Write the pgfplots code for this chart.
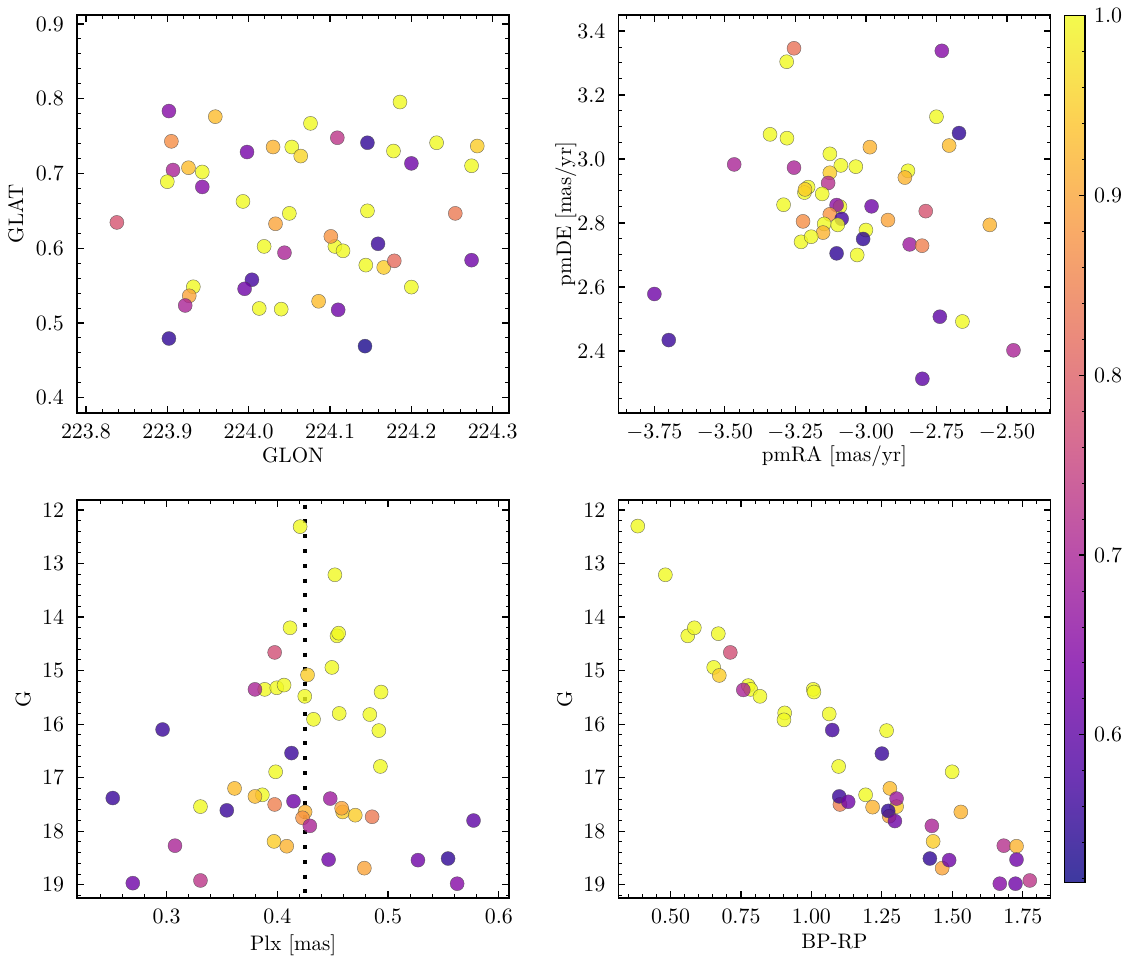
\documentclass[border=0pt]{standalone}
\usepackage{pgfplots}
\usepackage{pgfplotstable}
\pgfplotsset{compat=1.18}

\pgfplotstableread{
x y c
223.838 0.6345 0.78
223.902 0.7835 0.65
223.905 0.743 0.87
223.907 0.7046 0.70
223.900 0.689 1.0
223.926 0.7077 0.93
223.943 0.702 1.0
223.943 0.682 0.65
223.959 0.776 0.93
223.998 0.7287 0.63
223.993 0.6626 1.0
224.030 0.7354 0.92
224.033 0.6327 0.90
224.019 0.6024 1.0
224.044 0.594 0.70
224.004 0.5578 0.57
223.995 0.5457 0.62
223.932 0.5484 1.0
223.927 0.5363 0.90
223.922 0.5234 0.70
223.902 0.4792 0.55
224.013 0.5194 1.0
224.040 0.5185 1.0
224.050 0.6466 1.0
224.053 0.7354 1.0
224.064 0.7233 0.96
224.076 0.767 1.0
224.109 0.7478 0.73
224.146 0.7411 0.55
224.178 0.730 1.0
224.186 0.7956 1.0
224.200 0.7135 0.62
224.231 0.7411 1.0
224.281 0.7367 0.95
224.274 0.7103 1.0
224.254 0.6466 0.84
224.106 0.6024 1.0
224.101 0.6158 0.88
224.116 0.5965 1.0
224.146 0.650 1.0
224.159 0.6059 0.56
224.144 0.5774 1.0
224.166 0.5743 0.95
224.179 0.5831 0.82
224.274 0.584 0.62
224.200 0.548 1.0
224.086 0.529 0.93
224.110 0.5176 0.62
224.143 0.469 0.53
}\tabpos

\pgfplotstableread{
x y c
-3.255 3.346 0.83
-3.281 3.304 1.0
-3.340 3.077 1.0
-3.280 3.065 1.0
-3.467 2.983 0.70
-3.255 2.973 0.70
-3.292 2.857 1.0
-3.223 2.805 0.87
-3.230 2.741 1.0
-3.750 2.578 0.62
-3.699 2.434 0.56
-2.731 3.338 0.65
-2.750 3.132 1.0
-2.670 3.081 0.55
-2.705 3.042 0.93
-2.986 3.037 0.92
-3.128 3.016 1.0
-3.089 2.980 1.0
-3.036 2.976 1.0
-3.128 2.957 0.95
-2.851 2.963 1.0
-2.862 2.942 0.92
-3.134 2.925 0.72
-3.205 2.912 1.0
-3.218 2.895 1.0
-3.216 2.905 0.95
-3.155 2.891 1.0
-3.092 2.851 1.0
-3.104 2.856 0.66
-2.980 2.852 0.62
-2.788 2.837 0.78
-3.128 2.827 0.88
-3.086 2.813 0.57
-2.922 2.809 0.90
-2.561 2.794 0.92
-3.148 2.797 1.0
-3.100 2.794 1.0
-3.152 2.770 0.92
-3.194 2.757 1.0
-3.000 2.778 1.0
-3.010 2.750 0.55
-2.845 2.733 0.68
-2.801 2.729 0.85
-3.104 2.705 0.55
-3.031 2.700 1.0
-2.738 2.507 0.60
-2.658 2.492 1.0
-2.477 2.402 0.70
-2.800 2.313 0.60
}\tabpm

\pgfplotstableread{
x y c
0.2514 17.38 0.56
0.2695 18.97 0.62
0.2964 16.10 0.56
0.3076 18.27 0.70
0.3306 18.92 0.73
0.3306 17.54 1.0
0.3544 17.61 0.56
0.3614 17.20 0.93
0.3865 17.32 1.0
0.3798 17.35 0.93
0.3976 17.50 0.85
0.3985 16.89 1.0
0.3970 18.19 0.95
0.4085 18.28 0.92
0.3886 15.35 1.0
0.3798 15.35 0.70
0.3995 15.32 1.0
0.4061 15.27 1.0
0.3976 14.66 0.77
0.4115 14.20 1.0
0.4128 16.54 0.56
0.4146 17.44 0.62
0.4206 12.31 1.0
0.4520 13.21 1.0
0.4539 14.35 1.0
0.4554 14.30 1.0
0.4493 14.94 1.0
0.4273 15.08 0.95
0.4248 15.48 1.0
0.4937 15.40 1.0
0.4327 15.91 1.0
0.4559 15.80 1.0
0.4835 15.82 1.0
0.4917 16.12 1.0
0.4931 16.79 1.0
0.4478 17.39 0.68
0.4590 17.64 0.95
0.4581 17.57 0.90
0.4704 17.70 0.95
0.4856 17.73 0.84
0.4251 17.64 0.92
0.4228 17.75 0.88
0.4294 17.90 0.70
0.5772 17.80 0.60
0.4463 18.53 0.62
0.5270 18.54 0.62
0.5542 18.51 0.55
0.4786 18.69 0.90
0.5624 18.98 0.65
}\tabplx

\pgfplotstableread{
x y c
0.3837 12.30 1.0
0.4816 13.21 1.0
0.5610 14.35 1.0
0.5844 14.20 1.0
0.6695 14.31 1.0
0.7121 14.66 0.77
0.6532 14.94 1.0
0.6730 15.09 0.95
0.7759 15.28 1.0
0.7844 15.35 1.0
0.7582 15.36 0.70
0.8174 15.48 1.0
0.9050 15.79 1.0
0.9025 15.92 1.0
1.0064 15.35 1.0
1.0089 15.40 1.0
1.0631 15.81 1.0
1.0738 16.11 0.57
1.2667 16.12 1.0
1.2500 16.55 0.56
1.0965 16.79 1.0
1.4993 16.89 1.0
1.1011 17.50 0.85
1.0986 17.35 0.56
1.1305 17.45 0.62
1.1922 17.32 1.0
1.2170 17.55 0.92
1.2784 17.20 0.93
1.3021 17.54 0.95
1.3021 17.39 0.68
1.2759 17.72 0.90
1.2723 17.62 0.55
1.2961 17.81 0.62
1.5301 17.64 0.92
1.4273 17.90 0.70
1.4319 18.19 0.95
1.4202 18.51 0.55
1.4638 18.69 0.90
1.4887 18.54 0.62
1.6826 18.27 0.72
1.7277 18.28 0.92
1.7277 18.53 0.62
1.6684 18.98 0.65
1.7241 18.98 0.62
1.7748 18.92 0.73
}\tabcmd

\pgfplotsset{
  colormap={plasmaA}{rgb255=(61,57,159) rgb255=(111,53,180) rgb255=(151,53,185) rgb255=(185,78,171) rgb255=(213,107,148) rgb255=(234,137,125) rgb255=(249,170,103) rgb255=(253,207,83) rgb255=(243,250,77)},
  colormap={plasma}{rgb255=(13,8,135) rgb255=(75,3,161) rgb255=(125,3,168) rgb255=(168,34,150) rgb255=(203,70,121) rgb255=(229,107,93) rgb255=(248,148,65) rgb255=(253,195,40) rgb255=(240,249,33)},
  panel/.style={
    scale only axis, width=216pt, height=199pt, anchor=north west,
    colormap name=plasma, point meta min=0.518, point meta max=1.0,
    tick align=inside, tick pos=both,
    axis line style={line width=0.75pt},
    every tick/.append style={line width=0.6pt, black},
    every minor tick/.append style={line width=0.5pt, black},
    major tick length=3.4pt, minor tick length=1.8pt,
    tick label style={font=\fontsize{10.5}{12}\selectfont},
    label style={font=\fontsize{10.5}{12}\selectfont},
    xticklabel style={yshift=-2pt}, yticklabel style={xshift=-3pt},
    scaled ticks=false,
  },
  sc/.style={scatter, only marks, scatter src=explicit, mark=*, mark size=3.5pt,
    scatter/use mapped color={draw=black!70, fill=mapped color},
    mark options={line width=0.2pt, opacity=0.8}},
}

\begin{document}
\begin{tikzpicture}
\useasboundingbox (0,0) rectangle (566.5pt,-482.5pt);

% Panel 1: GLON vs GLAT
\begin{axis}[panel, at={(38.5pt,-7.5pt)},
  xmin=223.789, xmax=224.32, ymin=0.3795, ymax=0.912,
  xtick={223.8,223.9,224.0,224.1,224.2,224.3},
  minor xtick={223.82,223.84,223.86,223.88,223.92,223.94,223.96,223.98,224.02,224.04,224.06,224.08,224.12,224.14,224.16,224.18,224.22,224.24,224.26,224.28,224.32},
  ytick={0.4,0.5,0.6,0.7,0.8,0.9},
  minor ytick={0.38,0.42,0.44,0.46,0.48,0.52,0.54,0.56,0.58,0.62,0.64,0.66,0.68,0.72,0.74,0.76,0.78,0.82,0.84,0.86,0.88},
  xticklabel style={/pgf/number format/.cd, fixed, fixed zerofill, precision=1},
  yticklabel style={/pgf/number format/.cd, fixed, fixed zerofill, precision=1},
  xlabel={GLON}, ylabel={GLAT},
  xlabel style={at={([yshift=-21.3pt]axis description cs:0.5,0)}, anchor=center},
  ylabel style={at={([xshift=-30.6pt]axis description cs:0,0.5)}, anchor=center},
]
\addplot[sc] table[x=x, y=y, meta=c] {\tabpos};
\end{axis}

% Panel 2: pmRA vs pmDE
\begin{axis}[panel, at={(309.2pt,-7.5pt)},
  xmin=-3.8775, xmax=-2.346, ymin=2.206, ymax=3.45,
  xtick={-3.75,-3.5,-3.25,-3.0,-2.75,-2.5},
  minor xtick={-3.85,-3.8,-3.7,-3.65,-3.6,-3.55,-3.45,-3.4,-3.35,-3.3,-3.2,-3.15,-3.1,-3.05,-2.95,-2.9,-2.85,-2.8,-2.7,-2.65,-2.6,-2.55,-2.45,-2.4,-2.35},
  ytick={2.4,2.6,2.8,3.0,3.2,3.4},
  minor ytick={2.25,2.3,2.35,2.45,2.5,2.55,2.65,2.7,2.75,2.85,2.9,2.95,3.05,3.1,3.15,3.25,3.3,3.35,3.45},
  xticklabel style={/pgf/number format/.cd, fixed, fixed zerofill, precision=2},
  yticklabel style={/pgf/number format/.cd, fixed, fixed zerofill, precision=1},
  xlabel={pmRA [mas/yr]}, ylabel={pmDE [mas/yr]},
  xlabel style={at={([yshift=-21.8pt]axis description cs:0.5,0)}, anchor=center},
  ylabel style={at={([xshift=-26.3pt]axis description cs:0,0.5)}, anchor=center},
  colorbar,
  colorbar style={
    at={(parent axis.north east)}, anchor=north west, xshift=-1.4pt, yshift=-0.35pt,
    scale only axis, width=10.15pt, height=433.3pt,
    colormap name=plasmaA,
    ytick={0.6,0.7,0.8,0.9,1.0},
    minor ytick={0.52,0.54,0.56,0.58,0.62,0.64,0.66,0.68,0.72,0.74,0.76,0.78,0.82,0.84,0.86,0.88,0.92,0.94,0.96,0.98},
    tick align=inside, ytick pos=right, yticklabel pos=right,
    major tick length=3pt, minor tick length=1.7pt,
    axis line style={line width=0.75pt},
    every tick/.append style={line width=0.6pt, black},
    every minor tick/.append style={line width=0.5pt, black},
    yticklabel style={font=\fontsize{10.5}{12}\selectfont, xshift=1pt, /pgf/number format/.cd, fixed, fixed zerofill, precision=1},
  },
]
\addplot[sc] table[x=x, y=y, meta=c] {\tabpm};
\end{axis}

% Panel 3: Plx vs G
\begin{axis}[panel, at={(38.6pt,-250pt)},
  xmin=0.2193, xmax=0.6094, ymin=11.813, ymax=19.248, y dir=reverse,
  xtick={0.3,0.4,0.5,0.6},
  minor xtick={0.22,0.24,0.26,0.28,0.32,0.34,0.36,0.38,0.42,0.44,0.46,0.48,0.52,0.54,0.56,0.58},
  ytick={12,13,14,15,16,17,18,19},
  minor ytick={11.8,12.2,12.4,12.6,12.8,13.2,13.4,13.6,13.8,14.2,14.4,14.6,14.8,15.2,15.4,15.6,15.8,16.2,16.4,16.6,16.8,17.2,17.4,17.6,17.8,18.2,18.4,18.6,18.8,19.2},
  xticklabel style={/pgf/number format/.cd, fixed, fixed zerofill, precision=1},
  xlabel={Plx [mas]}, ylabel={G},
  xlabel style={at={([yshift=-23.5pt]axis description cs:0.5,0)}, anchor=center},
  ylabel style={at={([xshift=-27pt]axis description cs:0,0.5)}, anchor=center},
]
\addplot[sc] table[x=x, y=y, meta=c] {\tabplx};
\addplot[black, line width=2pt, dash pattern=on 2pt off 5.4pt, forget plot] coordinates {(0.4247,11.9) (0.4247,19.248)};
\end{axis}

% Panel 4: BP-RP vs G
\begin{axis}[panel, at={(309.2pt,-250pt)},
  xmin=0.315, xmax=1.848, ymin=11.813, ymax=19.248, y dir=reverse,
  xtick={0.5,0.75,1.0,1.25,1.5,1.75},
  minor xtick={0.35,0.4,0.45,0.55,0.6,0.65,0.7,0.8,0.85,0.9,0.95,1.05,1.1,1.15,1.2,1.3,1.35,1.4,1.45,1.55,1.6,1.65,1.7,1.8},
  ytick={12,13,14,15,16,17,18,19},
  minor ytick={11.8,12.2,12.4,12.6,12.8,13.2,13.4,13.6,13.8,14.2,14.4,14.6,14.8,15.2,15.4,15.6,15.8,16.2,16.4,16.6,16.8,17.2,17.4,17.6,17.8,18.2,18.4,18.6,18.8,19.2},
  xticklabel style={/pgf/number format/.cd, fixed, fixed zerofill, precision=2},
  xlabel={BP-RP}, ylabel={G},
  xlabel style={at={([yshift=-22pt]axis description cs:0.5,0)}, anchor=center},
  ylabel style={at={([xshift=-26.9pt]axis description cs:0,0.5)}, anchor=center},
]
\addplot[sc] table[x=x, y=y, meta=c] {\tabcmd};
\end{axis}
\end{tikzpicture}
\end{document}
